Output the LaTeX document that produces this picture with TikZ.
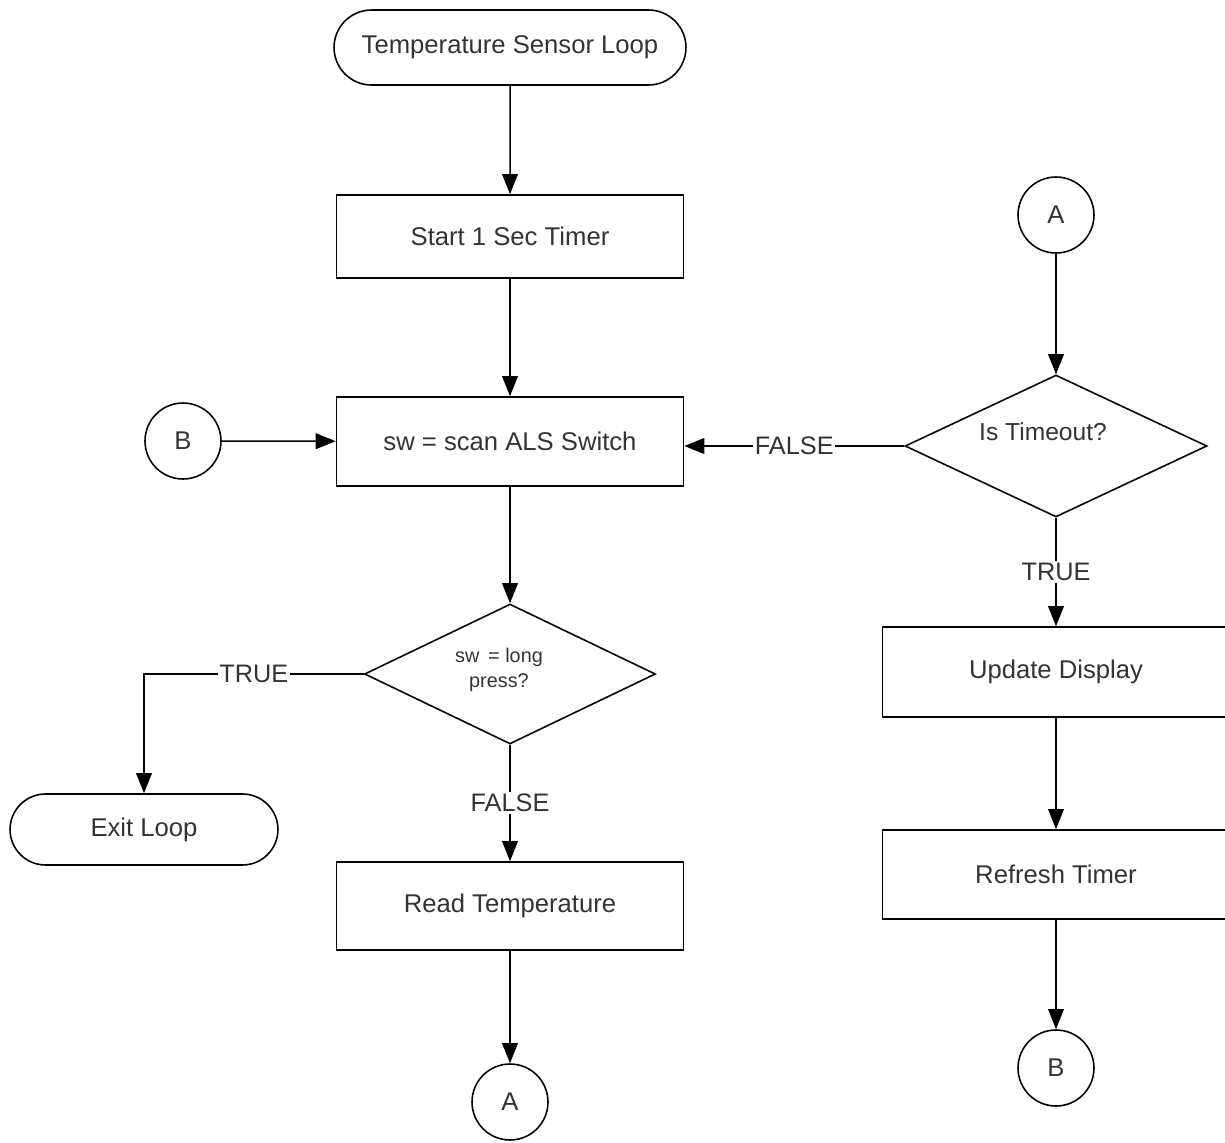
\documentclass[tikz,border=0pt]{standalone}
\usepackage{fontspec}
\setmainfont{Liberation Sans}
\usetikzlibrary{arrows.meta,shapes.geometric,shapes.misc}

\definecolor{ink}{HTML}{333333}

\tikzset{
  base/.style={draw=black, line width=0.9pt, text=ink, align=center, inner sep=0pt,
    font=\fontsize{14.6}{17}\selectfont},
  terminal/.style={base, rounded rectangle},
  process/.style={base, rectangle},
  decision/.style={base, diamond},
  connector/.style={base, circle, minimum size=1.52cm},
  arr/.style={draw=black, line width=0.85pt, -{Triangle[length=11.5pt,width=9pt]}},
  lbl/.style={fill=white, text=ink, inner sep=1pt, font=\fontsize{14.4}{17}\selectfont},
  dtext/.style={text=ink, align=center, inner sep=0pt}
}

\begin{document}
\begin{tikzpicture}[x=0.02cm, y=-0.02cm]
  \useasboundingbox (0,0) rectangle (1225,1143);

  % left column
  \node[terminal, minimum width=7.04cm, minimum height=1.5cm] (start) at (510,47.5) {Temperature Sensor Loop};
  \node[process, minimum width=6.94cm, minimum height=1.66cm] (timer) at (510,236.5) {Start 1 Sec Timer};
  \node[process, minimum width=6.94cm, minimum height=1.78cm] (scan) at (510,441.5) {sw = scan ALS Switch};
  \node[connector] (Bin) at (183,441) {B};
  \node[decision, minimum width=5.82cm, minimum height=2.8cm] (long) at (510,674) {};
  \node[dtext, font=\fontsize{11.3}{14.2}\selectfont] (longtxt) at (499,670) {sw \,= long\\press?};
  \node[terminal, minimum width=5.36cm, minimum height=1.42cm] (exit) at (144,829.5) {Exit Loop};
  \node[process, minimum width=6.94cm, minimum height=1.76cm] (read) at (510,906) {Read Temperature};
  \node[connector] (Aout) at (510,1102) {A};

  % right column
  \node[connector] (Ain) at (1056,215) {A};
  \node[decision, minimum width=6.04cm, minimum height=2.84cm] (tmo) at (1056,446) {};
  \node[dtext, font=\fontsize{14}{17}\selectfont] (tmotxt) at (1043,432) {Is Timeout?};
  \node[process, minimum width=6.94cm, minimum height=1.8cm] (upd) at (1056,672) {Update Display};
  \node[process, minimum width=6.94cm, minimum height=1.78cm] (refr) at (1056,874.5) {Refresh Timer};
  \node[connector] (Bout) at (1056,1068) {B};

  % connectors
  \draw[arr] (start) -- (timer);
  \draw[arr] (timer) -- (scan);
  \draw[arr] (Bin) -- (scan);
  \draw[arr] (scan) -- (long);
  \draw[arr] (long.west) -- node[lbl] {TRUE} (exit.north |- long.west) -- (exit.north);
  \draw[arr] (long) -- node[lbl] {FALSE} (read);
  \draw[arr] (read) -- (Aout);

  \draw[arr] (Ain) -- (tmo);
  \draw[arr] (tmo.west) -- node[lbl] {FALSE} (tmo.west -| scan.east);
  \draw[arr] (tmo) -- node[lbl] {TRUE} (upd);
  \draw[arr] (upd) -- (refr);
  \draw[arr] (refr) -- (Bout);
\end{tikzpicture}
\end{document}
